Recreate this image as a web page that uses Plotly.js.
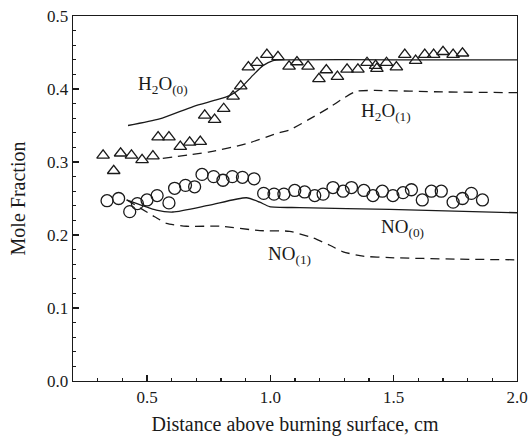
<!DOCTYPE html>
<html>
<head>
<meta charset="utf-8">
<script src="https://cdn.plot.ly/plotly-3.0.1.min.js"></script>
<style>html,body{margin:0;padding:0;background:#fff;}#chart{width:531px;height:437px;}</style>
</head>
<body>
<div id="chart"></div>
<script>
// H2O measured (triangles)
const h2oX = [0.322,0.365,0.393,0.437,0.480,0.524,0.545,0.589,0.635,0.673,0.716,0.734,0.774,0.811,0.849,0.880,0.911,0.946,0.986,1.031,1.076,1.108,1.153,1.197,1.227,1.272,1.311,1.355,1.392,1.427,1.432,1.471,1.511,1.545,1.589,1.626,1.662,1.700,1.741,1.779];
const h2oY = [0.309,0.288,0.312,0.309,0.303,0.308,0.334,0.334,0.321,0.327,0.328,0.364,0.358,0.373,0.390,0.404,0.430,0.436,0.447,0.444,0.431,0.437,0.431,0.414,0.426,0.417,0.427,0.427,0.436,0.432,0.428,0.436,0.430,0.447,0.439,0.447,0.447,0.451,0.447,0.449];
// NO measured (circles)
const noX = [0.338,0.385,0.430,0.461,0.500,0.541,0.589,0.612,0.656,0.693,0.723,0.770,0.808,0.846,0.887,0.934,0.973,1.015,1.055,1.099,1.139,1.180,1.214,1.254,1.295,1.329,1.379,1.416,1.454,1.497,1.538,1.572,1.616,1.653,1.693,1.741,1.779,1.815,1.860];
const noY = [0.247,0.250,0.232,0.243,0.248,0.254,0.244,0.264,0.268,0.266,0.283,0.280,0.275,0.280,0.279,0.277,0.257,0.256,0.256,0.261,0.259,0.254,0.256,0.265,0.260,0.265,0.261,0.254,0.260,0.254,0.258,0.262,0.248,0.260,0.260,0.245,0.250,0.257,0.248];
// Model curves
const h2o0X = [0.423,0.551,0.687,0.781,0.835,0.876,0.930,0.970,1.011,1.060,1.500,2.000];
const h2o0Y = [0.350,0.359,0.376,0.385,0.391,0.400,0.419,0.432,0.439,0.440,0.440,0.440];
const h2o1X = [0.564,0.754,0.903,1.025,1.078,1.160,1.241,1.295,1.349,1.420,1.700,2.000];
const h2o1Y = [0.305,0.314,0.325,0.339,0.344,0.359,0.375,0.387,0.397,0.398,0.396,0.395];
const no0X = [0.417,0.538,0.605,0.754,0.903,0.957,0.997,1.119,1.484,2.000];
const no0Y = [0.248,0.234,0.2315,0.241,0.251,0.245,0.239,0.2375,0.235,0.2305];
const no1X = [0.418,0.531,0.579,0.660,0.795,0.957,1.078,1.173,1.241,1.295,1.376,1.484,1.750,2.000];
const no1Y = [0.248,0.225,0.216,0.212,0.212,0.206,0.205,0.196,0.186,0.177,0.171,0.169,0.167,0.166];
// Labels
const labelText = ['H<sub>2</sub>O<sub>(0)</sub>','H<sub>2</sub>O<sub>(1)</sub>','NO<sub>(0)</sub>','NO<sub>(1)</sub>'];
const labelX = [0.457,1.360,1.441,0.982];
const labelY = [0.405,0.368,0.210,0.173];

const ink = '#1a1a1a';
const font = 'Liberation Serif, Times New Roman, serif';
const dashStyle = '9px,6px';
const lineStyle = (d) => ({color:ink, width:1.3, dash:d, shape:'spline', smoothing:0.6});

const traces = [
  {x:h2o0X, y:h2o0Y, mode:'lines', line:lineStyle('solid')},
  {x:h2o1X, y:h2o1Y, mode:'lines', line:lineStyle(dashStyle)},
  {x:no0X, y:no0Y, mode:'lines', line:lineStyle('solid')},
  {x:no1X, y:no1Y, mode:'lines', line:lineStyle(dashStyle)},
  {x:h2oX, y:h2oY, mode:'markers', marker:{symbol:'triangle-up-open', size:11, color:ink, line:{width:1.3, color:ink}}},
  {x:noX, y:noY, mode:'markers', marker:{symbol:'circle-open', size:12, color:ink, line:{width:1.3, color:ink}}}
];

const annotations = labelText.map((t,i)=>({
  x:labelX[i], y:labelY[i], xref:'x', yref:'y', text:t, showarrow:false,
  xanchor:'left', yanchor:'middle', font:{family:font, size:19, color:ink}
}));

const layout = {
  width:531, height:437,
  margin:{l:73, r:14, t:16, b:56},
  paper_bgcolor:'#fff', plot_bgcolor:'#fff',
  showlegend:false,
  font:{family:font, color:ink, size:17},
  xaxis:{
    range:[0.2,2.0], tick0:0, dtick:0.5, tickformat:'.1f',
    ticks:'inside', ticklen:6, tickwidth:1.2, tickcolor:ink,
    minor:{dtick:0.1, tick0:0, ticks:'inside', ticklen:3, tickwidth:1.2, tickcolor:ink},
    showgrid:false, zeroline:false, showline:true, linecolor:ink, linewidth:1.3, mirror:true,
    tickfont:{family:font, size:17, color:ink},
    title:{text:'Distance above burning surface, cm', font:{family:font, size:20, color:ink}, standoff:11}
  },
  yaxis:{
    range:[0,0.5], tick0:0, dtick:0.1, tickformat:'.1f',
    ticks:'inside', ticklen:6, tickwidth:1.2, tickcolor:ink,
    minor:{dtick:0.02, tick0:0, ticks:'inside', ticklen:3, tickwidth:1.2, tickcolor:ink},
    showgrid:false, zeroline:false, showline:true, linecolor:ink, linewidth:1.3, mirror:true,
    tickfont:{family:font, size:17, color:ink},
    title:{text:'Mole Fraction', font:{family:font, size:20, color:ink}, standoff:16}
  },
  annotations:annotations
};

Plotly.newPlot('chart', traces, layout, {displayModeBar:false, staticPlot:true});
</script>
</body>
</html>
